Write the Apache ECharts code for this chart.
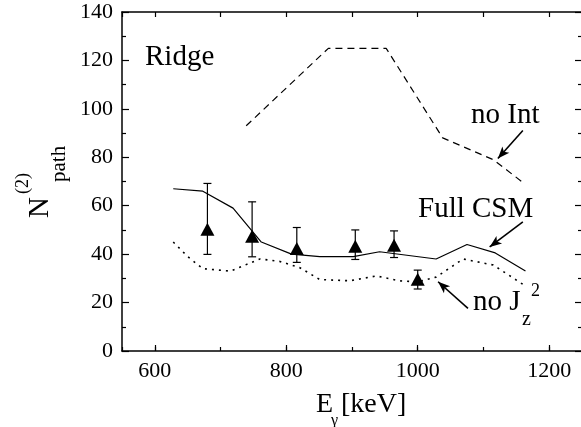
<!DOCTYPE html>
<html><head><meta charset="utf-8">
<script src="https://cdn.jsdelivr.net/npm/echarts@6/dist/echarts.min.js"></script>
<style>html,body{margin:0;padding:0;background:#fff}#c{width:581px;height:427px}</style>
</head><body><div id="c"></div>
<script>
// ---- data ----
const fullCsmX = [628, 673, 719, 762, 808, 851, 902, 942, 1028, 1075, 1118, 1164];
const fullCsmY = [67, 66, 59, 45, 40, 39, 39, 41, 38, 44, 40.5, 33];
const noIntX = [739, 864, 952, 1038, 1115, 1163];
const noIntY = [93, 125, 125, 88, 79, 69];
const noJzX = [628, 650, 673, 715, 760, 790, 820, 851, 897, 937, 972, 1000, 1028, 1069, 1115, 1163];
const noJzY = [45, 39, 34, 33, 38, 37, 34.5, 29.5, 29, 31, 29, 28.5, 30.5, 38, 35.5, 27];
const expX = [680, 748, 816, 905, 964, 1000];
const expY = [50.3, 47.4, 42.3, 43.3, 43.7, 29.6];
const expLow = [39.9, 38.9, 36.6, 37.8, 38.6, 25.6];
const expHigh = [69.2, 61.6, 51, 50, 49.6, 33.4];
const xTickLabels = [600, 800, 1000, 1200];
const yTickLabels = [0, 20, 40, 60, 80, 100, 120, 140];

const FONT = 'Liberation Serif';
const zip = (xs, ys) => xs.map((x, i) => [x, ys[i]]);
const black = '#000';
const axisLine = {show: true, onZero: false, lineStyle: {color: black, width: 1.5}};

const chart = echarts.init(document.getElementById('c'), null, {renderer: 'canvas'});

const option = {
  animation: false,
  backgroundColor: '#fff',
  grid: {left: 122, top: 12, width: 460, height: 339, outerBoundsMode: 'none', containLabel: false},
  xAxis: [
    {type: 'value', min: 550, max: 1250, minInterval: 200, maxInterval: 200, position: 'bottom',
     axisLine, axisTick: {inside: true, length: 6, lineStyle: {color: black, width: 1.2}},
     axisLabel: {showMinLabel: false, showMaxLabel: false, fontSize: 22, fontFamily: FONT, color: black, margin: 9,
       formatter: v => xTickLabels.includes(v) ? String(v) : ''},
     splitLine: {show: false}},
    {type: 'value', min: 550, max: 1250, minInterval: 100, maxInterval: 100, position: 'bottom',
     axisLine: {show: false}, axisTick: {inside: true, length: 4, lineStyle: {color: black, width: 1.2}},
     axisLabel: {show: false}, splitLine: {show: false}},
    {type: 'value', min: 550, max: 1250, minInterval: 100, maxInterval: 100, position: 'top',
     axisLine, axisTick: {inside: true, length: 5, lineStyle: {color: black, width: 1.2}},
     axisLabel: {show: false}, splitLine: {show: false}}
  ],
  yAxis: [
    {type: 'value', min: 0, max: 140, interval: 20, position: 'left',
     axisLine, axisTick: {inside: true, length: 7, lineStyle: {color: black, width: 1.2}},
     minorTick: {show: true, splitNumber: 2, length: 4, lineStyle: {color: black, width: 1.2}},
     axisLabel: {fontSize: 22, fontFamily: FONT, color: black, margin: 9,
       formatter: v => yTickLabels.includes(v) ? String(v) : ''},
     splitLine: {show: false}, minorSplitLine: {show: false}},
    {type: 'value', min: 0, max: 140, interval: 20, position: 'right',
     axisLine, axisTick: {inside: true, length: 7, lineStyle: {color: black, width: 1.2}},
     minorTick: {show: true, splitNumber: 2, length: 4, lineStyle: {color: black, width: 1.2}},
     axisLabel: {show: false}, splitLine: {show: false}, minorSplitLine: {show: false}}
  ],
  series: [
    {name: 'Full CSM', type: 'line', data: zip(fullCsmX, fullCsmY), showSymbol: false, symbol: 'none',
     lineStyle: {color: black, width: 1.2}, silent: true,
     markLine: {silent: true, symbol: ['none', 'arrow'], symbolSize: [7, 12],
       label: {show: false}, lineStyle: {color: black, width: 1.6, type: 'solid'},
       data: [
         [{coord: [1160, 91.1]}, {coord: [1122, 79.5]}],
         [{coord: [1160, 53.3]}, {coord: [1109.5, 43]}],
         [{coord: [1076.5, 17.6]}, {coord: [1031, 28.6]}]
       ]}},
    {name: 'no Int', type: 'line', data: zip(noIntX, noIntY), showSymbol: false, symbol: 'none',
     lineStyle: {color: black, width: 1.2, type: [7, 5]}, silent: true},
    {name: 'no Jz2', type: 'line', data: zip(noJzX, noJzY), showSymbol: false, symbol: 'none',
     lineStyle: {color: black, width: 1.6, type: [2, 5]}, silent: true},
    {name: 'errors', type: 'custom', silent: true,
     data: expX.map((x, i) => [x, expLow[i], expHigh[i]]),
     renderItem: (params, api) => {
       const lo = api.coord([api.value(0), api.value(1)]);
       const hi = api.coord([api.value(0), api.value(2)]);
       const w = 4;
       const st = {stroke: black, lineWidth: 1.2};
       return {type: 'group', children: [
         {type: 'line', shape: {x1: lo[0], y1: lo[1], x2: hi[0], y2: hi[1]}, style: st},
         {type: 'line', shape: {x1: lo[0] - w, y1: lo[1], x2: lo[0] + w, y2: lo[1]}, style: st},
         {type: 'line', shape: {x1: hi[0] - w, y1: hi[1], x2: hi[0] + w, y2: hi[1]}, style: st}
       ]};
     }},
    {name: 'exp', type: 'scatter', data: zip(expX, expY), symbol: 'triangle', symbolSize: [14, 13],
     itemStyle: {color: black, opacity: 1}, silent: true}
  ],
  graphic: [
    {type: 'text', left: 145, top: 43, style: {text: 'Ridge', font: `29px "${FONT}"`, fill: black}},
    {type: 'text', x: 471, y: 115, style: {text: 'no Int', font: `29px "${FONT}"`, fill: black, verticalAlign: 'middle'}},
    {type: 'text', x: 418, y: 209, style: {text: 'Full CSM', font: `29px "${FONT}"`, fill: black, verticalAlign: 'middle'}},
    {type: 'text', x: 473, y: 302.5, style: {text: 'no J', font: `29px "${FONT}"`, fill: black, verticalAlign: 'middle'}},
    {type: 'text', x: 522, y: 320, style: {text: 'z', font: `20px "${FONT}"`, fill: black, verticalAlign: 'middle'}},
    {type: 'text', x: 531, y: 291, style: {text: '2', font: `18px "${FONT}"`, fill: black, verticalAlign: 'middle'}},
    // x axis title
    {type: 'text', x: 316, y: 405, style: {text: 'E', font: `28px "${FONT}"`, fill: black, verticalAlign: 'middle'}},
    {type: 'text', x: 331, y: 421, style: {text: 'γ', font: `16px "${FONT}"`, fill: black, verticalAlign: 'middle'}},
    {type: 'text', x: 341, y: 405, style: {text: '[keV]', font: `28px "${FONT}"`, fill: black, verticalAlign: 'middle'}},
    // y axis title (rotated)
    {type: 'text', x: 40, y: 218, rotation: Math.PI / 2, style: {text: 'N', font: `29px "${FONT}"`, fill: black, verticalAlign: 'middle', align: 'left'}},
    {type: 'text', x: 23, y: 194, rotation: Math.PI / 2, style: {text: '(2)', font: `18px "${FONT}"`, fill: black, verticalAlign: 'middle', align: 'left'}},
    {type: 'text', x: 59, y: 182, rotation: Math.PI / 2, style: {text: 'path', font: `21px "${FONT}"`, fill: black, verticalAlign: 'middle', align: 'left'}}
  ]
};
chart.setOption(option);
</script>
</body></html>
